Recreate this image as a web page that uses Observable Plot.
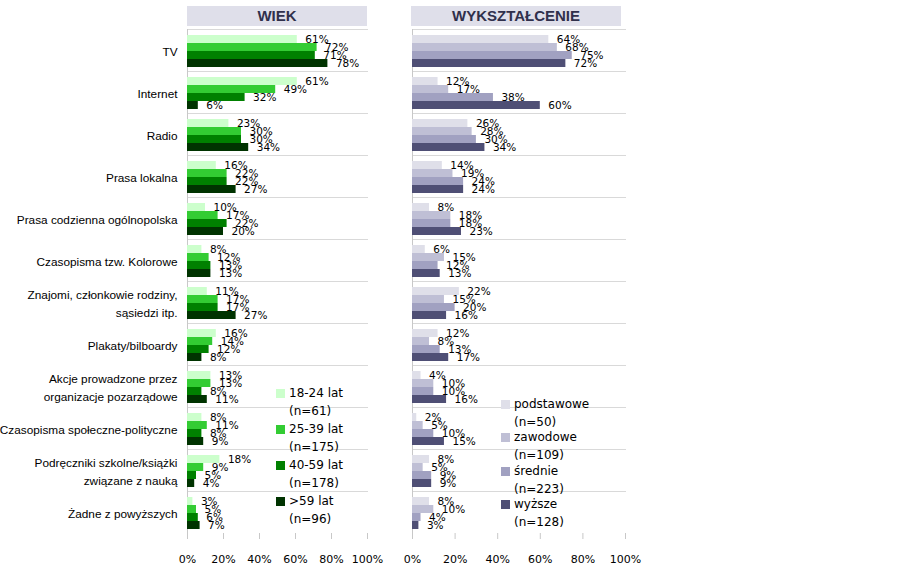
<!DOCTYPE html>
<html>
<head>
<meta charset="utf-8">
<script src="https://cdn.jsdelivr.net/npm/d3@7"></script>
<script src="https://cdn.jsdelivr.net/npm/@observablehq/plot@0.6"></script>
<style>
  body { margin: 0; background: #fff; }
  #root { position: relative; width: 902px; height: 573px; overflow: hidden; background: #fff; }
  .abs { position: absolute; }
  .title { position: absolute; background: #dfdfea; font: bold 15px "Liberation Sans", Arial, sans-serif; color: #30304c; text-align: center; line-height: 20px; height: 20px; }
  .legend { position: absolute; font: 12px "DejaVu Sans", sans-serif; color: #000; }
  .legend .item { position: relative; padding-left: 13px; }
  .legend .sw { position: absolute; left: 0; width: 9px; height: 9px; }
</style>
</head>
<body>
<div id="root"></div>
<script>
// ---- data ----
const categories = [
  "TV",
  "Internet",
  "Radio",
  "Prasa lokalna",
  "Prasa codzienna ogólnopolska",
  "Czasopisma tzw. Kolorowe",
  "Znajomi, członkowie rodziny,\nsąsiedzi itp.",
  "Plakaty/bilboardy",
  "Akcje prowadzone przez\norganizacje pozarządowe",
  "Czasopisma społeczne-polityczne",
  "Podręczniki szkolne/książki\nzwiązane z nauką",
  "Żadne z powyższych"
];

const ageSeries = ["18-24 lat", "25-39 lat", "40-59 lat", ">59 lat"];
const ageN = ["(n=61)", "(n=175)", "(n=178)", "(n=96)"];
const age18_24 = [61, 61, 23, 16, 10, 8, 11, 16, 13, 8, 18, 3];
const age25_39 = [72, 49, 30, 22, 17, 12, 17, 14, 13, 11, 9, 5];
const age40_59 = [71, 32, 30, 22, 22, 13, 17, 12, 8, 8, 5, 6];
const age59plus = [78, 6, 34, 27, 20, 13, 27, 8, 11, 9, 4, 7];

const eduSeries = ["podstawowe", "zawodowe", "średnie", "wyższe"];
const eduN = ["(n=50)", "(n=109)", "(n=223)", "(n=128)"];
const eduPodstawowe = [64, 12, 26, 14, 8, 6, 22, 12, 4, 2, 8, 8];
const eduZawodowe = [68, 17, 28, 19, 18, 15, 15, 8, 10, 5, 5, 10];
const eduSrednie = [75, 38, 30, 24, 18, 12, 20, 13, 10, 10, 9, 4];
const eduWyzsze = [72, 60, 34, 24, 23, 13, 16, 17, 16, 15, 9, 3];

const xTicks = [0, 20, 40, 60, 80, 100];

const greenColors = ["#ccffcc", "#33cc33", "#008000", "#003300"];
const purpleColors = ["#dfdfe9", "#bfbfd5", "#a1a1c1", "#4f4f75"];

// ---- build tables ----
function longTable(series, valueArrays) {
  const rows = [];
  series.forEach((s, si) => {
    categories.forEach((c, ci) => rows.push({category: c, series: s, value: valueArrays[si][ci]}));
  });
  return rows;
}
const ageData = longTable(ageSeries, [age18_24, age25_39, age40_59, age59plus]);
const eduData = longTable(eduSeries, [eduPodstawowe, eduZawodowe, eduSrednie, eduWyzsze]);

function panel(data, series, colors, opts) {
  const marks = [
    Plot.frame({anchor: "top", stroke: "#d9d9d9"}),
    Plot.ruleX([0], {stroke: "#c8c8c8"}),
    Plot.barX(data, {fy: "category", y: "series", x: "value", fill: "series"}),
    Plot.text(data, {fy: "category", y: "series", x: "value", text: d => d.value + "%",
      dx: 8, textAnchor: "start", fontSize: 10.5, fill: "#000", fontFamily: "DejaVu Sans"}),
    Plot.axisX({anchor: "bottom", ticks: xTicks, tickSize: 6, tickFormat: () => "", stroke: "#c8c8c8", label: null}),
    Plot.axisX({anchor: "bottom", ticks: xTicks, tickSize: 0, tickPadding: 22, tickFormat: d => d + "%",
      fontSize: 11, fontFamily: "DejaVu Sans", fill: "#000", label: null})
  ];
  if (opts.labels) {
    marks.push(Plot.axisFy({anchor: "left", tickSize: 0, tickPadding: 10, label: null,
      fontSize: 11.8, fontFamily: "Liberation Sans", lineHeight: 1.45, fill: "#000"}));
  }
  return Plot.plot({
    width: opts.width,
    height: 573,
    marginLeft: opts.marginLeft,
    marginRight: opts.marginRight,
    marginTop: 29,
    marginBottom: 40,
    style: {background: "transparent", fontFamily: "DejaVu Sans", overflow: "visible"},
    x: {domain: [0, 100], axis: null},
    fy: {domain: categories, padding: 0, axis: null, label: null},
    y: {domain: series, axis: null, paddingInner: 0, paddingOuter: 0.625, align: 0.6},
    color: {domain: series, range: colors},
    marks
  });
}

const root = document.getElementById("root");

const left = panel(ageData, ageSeries, greenColors, {width: 390, marginLeft: 187, marginRight: 23, labels: true});
left.classList.add("abs");
left.style.left = "0px"; left.style.top = "0px";
root.appendChild(left);

const right = panel(eduData, eduSeries, purpleColors, {width: 240, marginLeft: 12, marginRight: 15, labels: false});
right.classList.add("abs");
right.style.left = "400px"; right.style.top = "0px";
root.appendChild(right);

// titles
function title(text, x, w) {
  const d = document.createElement("div");
  d.className = "title";
  d.textContent = text;
  d.style.left = x + "px"; d.style.top = "6px"; d.style.width = w + "px";
  root.appendChild(d);
}
title("WIEK", 187, 180);
title("WYKSZTAŁCENIE", 411, 210);

// legends
function legend(series, ns, colors, x, y, step) {
  const box = document.createElement("div");
  box.className = "legend";
  box.style.left = x + "px"; box.style.top = y + "px";
  series.forEach((s, i) => {
    const it = document.createElement("div");
    it.className = "item";
    it.style.height = step + "px";
    it.style.lineHeight = "18px";
    const sw = document.createElement("span");
    sw.className = "sw";
    sw.style.background = colors[i];
    sw.style.top = "5px";
    it.appendChild(sw);
    it.appendChild(document.createTextNode(s));
    it.appendChild(document.createElement("br"));
    it.appendChild(document.createTextNode(ns[i]));
    box.appendChild(it);
  });
  root.appendChild(box);
}
legend(ageSeries, ageN, greenColors, 276, 384, 36);
legend(eduSeries, eduN, purpleColors, 501, 395, 33.3);
</script>
</body>
</html>
